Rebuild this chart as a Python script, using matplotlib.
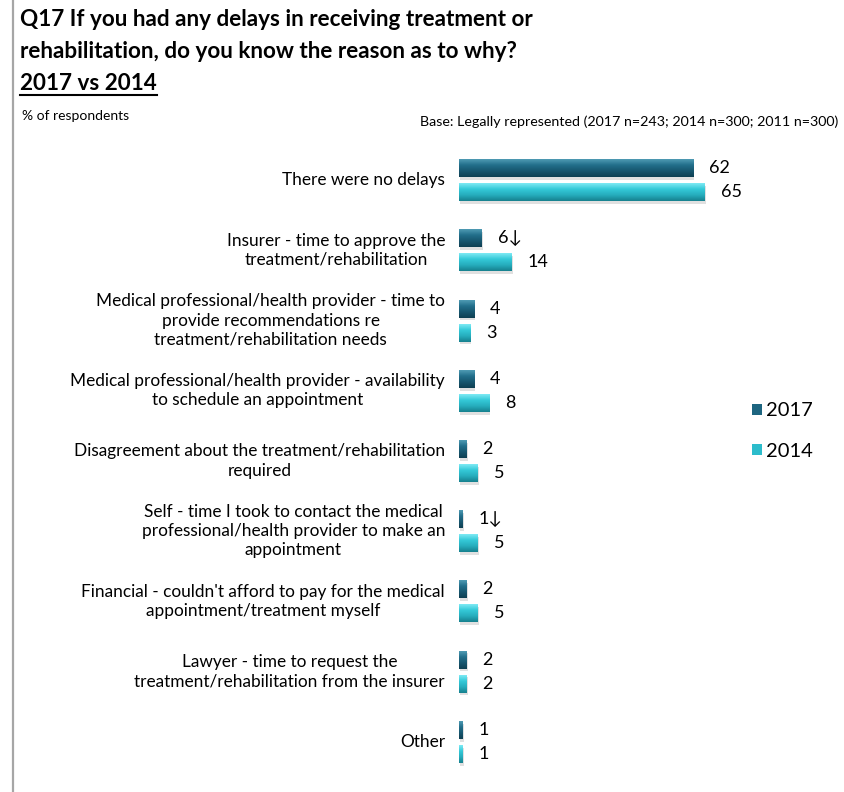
import numpy as np
import matplotlib
matplotlib.use("Agg")
import matplotlib.pyplot as plt
from matplotlib.colors import LinearSegmentedColormap
from matplotlib.patches import Rectangle
from matplotlib.lines import Line2D

plt.rcParams['font.family'] = ['Lato', 'DejaVu Sans']

categories = [
    "There were no delays",
    "Insurer - time to approve the\ntreatment/rehabilitation",
    "Medical professional/health provider - time to\nprovide recommendations re\ntreatment/rehabilitation needs",
    "Medical professional/health provider - availability\nto schedule an appointment",
    "Disagreement about the treatment/rehabilitation\nrequired",
    "Self - time I took to contact the medical\nprofessional/health provider to make an\nappointment",
    "Financial - couldn't afford to pay for the medical\nappointment/treatment myself",
    "Lawyer - time to request the\ntreatment/rehabilitation from the insurer",
    "Other",
]
v2017 = [62, 6, 4, 4, 2, 1, 2, 2, 1]
v2014 = [65, 14, 3, 8, 5, 5, 5, 2, 1]
sig2017 = ["", "\u2193", "", "", "", "\u2193", "", "", ""]
sig2014 = ["", "", "", "", "", "", "", "", ""]
series_names = ["2017", "2014"]

col_2017 = "#1d6580"
col_2014 = "#2cbccb"
grad_2017 = LinearSegmentedColormap.from_list("g17", ["#4f9ab3", "#226f8b", "#17566e", "#0e3f52"])
grad_2014 = LinearSegmentedColormap.from_list("g14", ["#7eeaf4", "#34c9d8", "#26adbd", "#16808e"])

fig = plt.figure(figsize=(8.45, 7.92), dpi=100)
fig.patch.set_facecolor("white")

# left frame line
fig.add_artist(Line2D([13 / 845, 13 / 845], [0, 1], color="#a6a6a6", lw=1.6,
                      transform=fig.transFigure))

ax = fig.add_axes([459 / 845, 15 / 792, 70 * 3.78 / 845, 632 / 792])
ax.set_xlim(0, 70)
ax.set_ylim(8.5, -0.5)
ax.axis("off")

y = np.arange(len(categories))
off = 0.171
h = 0.256

bars17 = ax.barh(y - off, v2017, height=h, color=col_2017, label=series_names[0], zorder=3)
bars14 = ax.barh(y + off, v2014, height=h, color=col_2014, label=series_names[1], zorder=3)

grad = np.linspace(0, 1, 64).reshape(-1, 1)
for bars, cmap in ((bars17, grad_2017), (bars14, grad_2014)):
    for p in bars:
        x0, y0 = p.get_x(), p.get_y()
        w, hh = p.get_width(), p.get_height()
        # soft drop shadow
        ax.add_patch(Rectangle((x0 + 0.25, y0 + 0.04), w, hh, color="#000000",
                               alpha=0.12, lw=0, zorder=2))
        im = ax.imshow(grad, cmap=cmap, aspect="auto", extent=(x0, x0 + w, y0 + hh, y0),
                       zorder=4, interpolation="bilinear")
        im.set_clip_path(p)
ax.set_xlim(0, 70)
ax.set_ylim(8.5, -0.5)

for yi, v, s in zip(y - off, v2017, sig2017):
    ax.annotate(f"{v}{s}", (v, yi), xytext=(11.5, 0), textcoords="offset points",
                ha="left", va="center", fontsize=13, color="#000000")
for yi, v, s in zip(y + off, v2014, sig2014):
    ax.annotate(f"{v}{s}", (v, yi), xytext=(11.5, 0), textcoords="offset points",
                ha="left", va="center", fontsize=13, color="#000000")

for yi, c in zip(y, categories):
    ax.annotate(c, (0, yi), xytext=(-10, 0), textcoords="offset points",
                ha="right", va="center", multialignment="center",
                fontsize=12.4, linespacing=1.25, color="#000000")

leg = ax.legend(handles=[bars17, bars14], loc="center left",
                bbox_to_anchor=(742 / 845, 1 - 431 / 792), bbox_transform=fig.transFigure,
                frameon=False, fontsize=14.5, handlelength=0.5, handleheight=0.5,
                handletextpad=0.2, labelspacing=1.15, borderpad=0)

# title block
fig.text(20 / 845, 1 - 20 / 792, "Q17 If you had any delays in receiving treatment or",
         fontsize=16.2, fontweight="bold", va="center", ha="left")
fig.text(20 / 845, 1 - 52 / 792, "rehabilitation, do you know the reason as to why?",
         fontsize=16.2, fontweight="bold", va="center", ha="left")
t3 = fig.text(20 / 845, 1 - 83 / 792, "2017 vs 2014",
              fontsize=16.2, fontweight="bold", va="center", ha="left")
fig.canvas.draw()
bb = t3.get_window_extent().transformed(fig.transFigure.inverted())
fig.add_artist(Line2D([bb.x0, bb.x1], [bb.y0 - 0.002, bb.y0 - 0.002], color="black",
                      lw=1.5, transform=fig.transFigure))

fig.text(22 / 845, 1 - 116 / 792, "% of respondents", fontsize=10, va="center", ha="left")
fig.text(838 / 845, 1 - 122 / 792,
         "Base: Legally represented (2017 n=243; 2014 n=300; 2011 n=300)",
         fontsize=10.3, va="center", ha="right")

fig.savefig("out.png", dpi=100, facecolor="white")
